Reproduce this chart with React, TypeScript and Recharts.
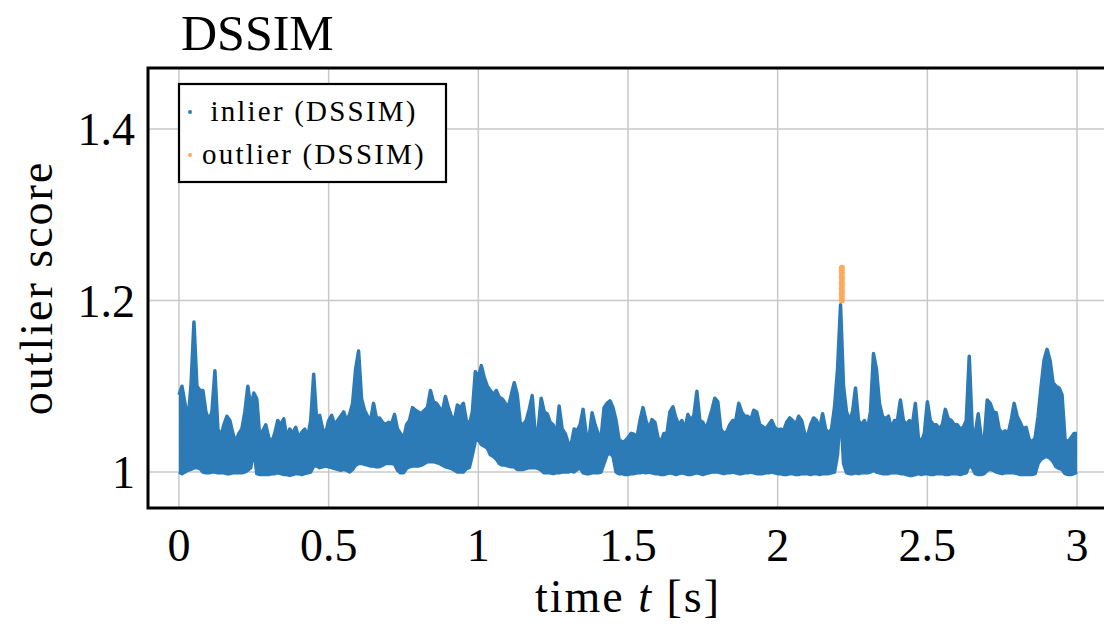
import React from 'react';
import { ComposedChart, Area, Scatter, XAxis, YAxis, CartesianGrid, ReferenceArea } from 'recharts';

// sampling grid of the band (seconds)
const TIME_STEP = 0.01;

// upper edge of the inlier cloud, one value per 10 ms, t = 0 .. 3 s
const HIGHS = [
  1.09, 1.10, 1.08, 1.06, 1.10, 1.175, 1.10, 1.095, 1.095, 1.07,
  1.06, 1.07, 1.118, 1.05, 1.042, 1.055, 1.065, 1.06, 1.045, 1.035,
  1.045, 1.05, 1.07, 1.10, 1.075, 1.092, 1.085, 1.04, 1.048, 1.055,
  1.04, 1.035, 1.045, 1.06, 1.055, 1.062, 1.04, 1.05, 1.045, 1.052,
  1.04, 1.046, 1.05, 1.04, 1.06, 1.114, 1.06, 1.066, 1.05, 1.045,
  1.06, 1.066, 1.055, 1.06, 1.065, 1.07, 1.06, 1.067, 1.08, 1.12,
  1.141, 1.085, 1.072, 1.065, 1.06, 1.08, 1.062, 1.063, 1.058, 1.055,
  1.058, 1.056, 1.067, 1.05, 1.045, 1.038, 1.055, 1.06, 1.075, 1.072,
  1.07, 1.068, 1.072, 1.075, 1.095, 1.082, 1.08, 1.075, 1.07, 1.088,
  1.075, 1.065, 1.06, 1.078, 1.075, 1.08, 1.06, 1.055, 1.07, 1.117,
  1.11, 1.124, 1.11, 1.10, 1.095, 1.09, 1.095, 1.087, 1.085, 1.08,
  1.075, 1.09, 1.104, 1.09, 1.057, 1.055, 1.06, 1.073, 1.089, 1.045,
  1.05, 1.086, 1.07, 1.068, 1.058, 1.055, 1.04, 1.077, 1.05, 1.045,
  1.034, 1.032, 1.05, 1.048, 1.055, 1.073, 1.045, 1.04, 1.069, 1.055,
  1.045, 1.04, 1.075, 1.08, 1.083, 1.075, 1.06, 1.038, 1.035, 1.036,
  1.04, 1.045, 1.044, 1.04, 1.06, 1.075, 1.06, 1.05, 1.061, 1.058,
  1.04, 1.035, 1.045, 1.045, 1.07, 1.076, 1.063, 1.055, 1.06, 1.05,
  1.067, 1.06, 1.066, 1.094, 1.06, 1.058, 1.05, 1.06, 1.072, 1.086,
  1.082, 1.05, 1.045, 1.047, 1.055, 1.06, 1.06, 1.08, 1.07, 1.065,
  1.065, 1.06, 1.072, 1.07, 1.055, 1.053, 1.05, 1.055, 1.06, 1.052,
  1.049, 1.05, 1.048, 1.058, 1.063, 1.06, 1.055, 1.065, 1.06, 1.045,
  1.042, 1.055, 1.063, 1.06, 1.05, 1.068, 1.05, 1.045, 1.05, 1.076,
  1.12, 1.195, 1.10, 1.07, 1.06, 1.07, 1.098, 1.06, 1.055, 1.06,
  1.05, 1.07, 1.138, 1.12, 1.08, 1.065, 1.062, 1.065, 1.05, 1.06,
  1.06, 1.084, 1.06, 1.055, 1.06, 1.055, 1.08, 1.04, 1.035, 1.045,
  1.082, 1.06, 1.055, 1.055, 1.05, 1.055, 1.073, 1.062, 1.06, 1.055,
  1.055, 1.05, 1.052, 1.06, 1.135, 1.05, 1.045, 1.068, 1.04, 1.038,
  1.084, 1.08, 1.07, 1.069, 1.05, 1.045, 1.048, 1.045, 1.06, 1.08,
  1.065, 1.058, 1.05, 1.052, 1.038, 1.035, 1.04, 1.065, 1.10, 1.131,
  1.143, 1.13, 1.104, 1.10, 1.098, 1.09, 1.038, 1.035, 1.04, 1.045,
  1.045,
];

// lower edge of the inlier cloud, same grid
const LOWS = [
  1.0, 0.998, 1.0, 1.002, 1.003, 1.005, 1.005, 1.004, 1.0, 0.999,
  0.999, 1.0, 1.0, 0.999, 0.999, 0.999, 0.998, 0.998, 0.999, 0.999,
  0.999, 0.999, 1.0, 1.002, 1.005, 1.028, 0.998, 0.997, 0.997, 0.997,
  0.997, 0.998, 0.998, 0.999, 0.998, 0.997, 0.997, 0.996, 0.997, 0.998,
  0.998, 0.997, 0.998, 0.999, 1.0, 1.007, 1.007, 1.005, 1.006, 1.007,
  1.006, 1.005, 1.004, 1.003, 1.002, 1.003, 1.002, 1.0, 1.003, 1.008,
  1.01, 1.01, 1.009, 1.008, 1.007, 1.007, 1.006, 1.006, 1.008, 1.01,
  1.01, 1.01, 1.009, 1.002, 0.999, 0.999, 1.004, 1.006, 1.007, 1.007,
  1.007, 1.008, 1.01, 1.012, 1.012, 1.012, 1.011, 1.01, 1.008, 1.006,
  1.005, 1.004, 1.002, 1.0, 1.0, 1.0, 1.004, 1.005, 1.02, 1.036,
  1.038, 1.032, 1.03, 1.028, 1.02, 1.018, 1.015, 1.01, 1.008, 1.008,
  1.007, 1.006, 1.006, 1.003, 1.003, 1.003, 1.004, 1.005, 1.005, 1.005,
  1.004, 1.002, 0.999, 0.999, 0.999, 0.998, 0.999, 0.999, 1.0, 1.0,
  1.0, 1.001, 1.0, 1.003, 1.005, 0.999, 0.998, 0.998, 0.999, 0.999,
  0.999, 1.0, 1.01, 1.02, 1.022, 1.018, 1.0, 0.998, 0.998, 0.997,
  0.997, 0.998, 0.998, 0.999, 0.999, 1.0, 0.999, 1.0, 0.999, 0.998,
  0.998, 0.997, 0.997, 0.998, 0.999, 0.998, 0.997, 0.998, 0.999, 0.998,
  0.997, 0.997, 0.998, 0.999, 0.998, 0.997, 0.998, 0.999, 1.0, 1.0,
  1.0, 0.999, 0.998, 0.999, 0.999, 1.0, 0.999, 0.998, 0.998, 0.999,
  0.999, 1.0, 0.999, 0.998, 0.998, 0.998, 0.999, 0.999, 1.0, 0.999,
  0.998, 0.998, 0.997, 0.997, 0.998, 0.998, 0.997, 0.997, 0.998, 0.998,
  0.998, 0.997, 0.998, 0.998, 0.997, 0.998, 0.998, 0.998, 0.999, 1.0,
  1.02, 1.075, 1.01, 0.999, 0.998, 0.998, 0.999, 0.998, 0.999, 0.999,
  0.999, 1.0, 1.002, 1.0, 0.999, 0.998, 0.998, 0.998, 0.999, 0.999,
  0.999, 0.998, 0.998, 0.997, 0.996, 0.996, 0.997, 0.998, 0.997, 0.998,
  0.998, 0.997, 0.997, 0.998, 0.998, 0.998, 0.997, 0.997, 0.998, 0.998,
  0.998, 0.997, 0.998, 0.999, 1.008, 1.005, 0.998, 0.997, 0.997, 0.998,
  1.002, 1.003, 1.002, 1.0, 0.999, 0.998, 0.999, 0.999, 0.999, 0.999,
  0.998, 0.997, 0.997, 0.997, 0.997, 0.997, 0.998, 1.01, 1.015, 1.017,
  1.018, 1.016, 1.012, 1.006, 1.004, 1.003, 0.998, 0.997, 0.997, 0.998,
  1.0,
];

// outlier points (orange)
const OUTLIER_T = [2.214, 2.2145, 2.214, 2.2145, 2.214, 2.2145, 2.214, 2.2145, 2.214, 2.2145, 2.214, 2.2145];
const OUTLIER_V = [1.200, 1.203, 1.207, 1.210, 1.214, 1.218, 1.221, 1.225, 1.228, 1.232, 1.235, 1.238];

const X_TICKS = [0, 0.5, 1, 1.5, 2, 2.5, 3];
const Y_TICKS = [1, 1.2, 1.4];
const X_DOMAIN = [-0.1035, 3.1035];
const Y_DOMAIN = [0.958, 1.471];

const BLUE = '#2c7bb6';
const ORANGE = '#fdaa5c';
const FONT = 'Liberation Serif, DejaVu Serif, serif';

const bandData = HIGHS.map((hi, i) => ({ t: +(i * TIME_STEP).toFixed(2), band: [LOWS[i], hi] }));
const outlierData = OUTLIER_T.map((t, i) => ({ t, v: OUTLIER_V[i] }));

const XLabel = (props: any) => {
  const { viewBox } = props;
  const cx = viewBox.x + viewBox.width / 2;
  return (
    <text x={cx} y={viewBox.y + 104} textAnchor="middle" fontFamily={FONT} fontSize={46} style={{ letterSpacing: 2 }} fill="#000">
      time <tspan fontStyle="italic">t</tspan> [s]
    </text>
  );
};

const YLabel = (props: any) => {
  const { viewBox } = props;
  const x = viewBox.x + 52;
  const y = viewBox.y + viewBox.height / 2;
  return (
    <text x={x} y={y} transform={`rotate(-90, ${x}, ${y})`} textAnchor="middle" fontFamily={FONT} fontSize={46} style={{ letterSpacing: 2 }} fill="#000">
      outlier score
    </text>
  );
};

const Dot = (props: any) => <circle cx={props.cx} cy={props.cy} r={3} fill={ORANGE} />;

export default function App() {
  const tickStyle = { fontFamily: FONT, fontSize: 46, fill: '#000' };
  return (
    <div style={{ position: 'relative', width: 1104, height: 627, overflow: 'hidden', background: '#fff', fontFamily: FONT }}>
      <style>{'html,body{margin:0;overflow:hidden;}'}</style>
      <ComposedChart width={1120} height={627} data={bandData} margin={{ top: 68, right: 12, bottom: 0, left: 0 }}>
        <CartesianGrid stroke="#c8c8c8" strokeWidth={1.5} />
        <XAxis
          dataKey="t"
          type="number"
          domain={X_DOMAIN}
          ticks={X_TICKS}
          allowDataOverflow
          height={119}
          tickLine={false}
          axisLine={false}
          tickSize={0}
          tickMargin={20}
          tick={tickStyle}
          label={<XLabel />}
        />
        <YAxis
          type="number"
          domain={Y_DOMAIN}
          ticks={Y_TICKS}
          allowDataOverflow
          width={148}
          tickLine={false}
          axisLine={false}
          tickSize={0}
          tickMargin={13}
          tick={tickStyle}
          label={<YLabel />}
        />
        <Area
          type="linear"
          dataKey="band"
          fill={BLUE}
          fillOpacity={1}
          stroke={BLUE}
          strokeWidth={3.5}
          strokeLinejoin="round"
          dot={false}
          activeDot={false}
          isAnimationActive={false}
        />
        <Scatter data={outlierData} dataKey="v" fill={ORANGE} shape={<Dot />} isAnimationActive={false} />
        <ReferenceArea x1={X_DOMAIN[0]} x2={X_DOMAIN[1]} y1={Y_DOMAIN[0]} y2={Y_DOMAIN[1]} fill="none" stroke="#000" strokeWidth={3} />
      </ComposedChart>
      <svg width={1104} height={627} style={{ position: 'absolute', left: 0, top: 0, pointerEvents: 'none' }}>
        <text x={181} y={50} fontFamily={FONT} fontSize={50} fill="#000">DSSIM</text>
        <rect x={179} y={84} width={267} height={98} fill="#fff" stroke="#000" strokeWidth={2.2} />
        <circle cx={190} cy={112} r={2} fill={BLUE} />
        <text x={314} y={121} textAnchor="middle" fontFamily={FONT} fontSize={29} style={{ letterSpacing: 2.2 }} fill="#000">inlier (DSSIM)</text>
        <circle cx={190} cy={155} r={2} fill={ORANGE} />
        <text x={314} y={164} textAnchor="middle" fontFamily={FONT} fontSize={29} style={{ letterSpacing: 2.2 }} fill="#000">outlier (DSSIM)</text>
      </svg>
    </div>
  );
}
